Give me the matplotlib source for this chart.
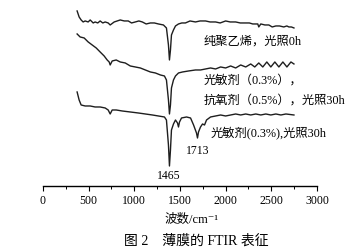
import matplotlib
matplotlib.use("Agg")
import matplotlib.pyplot as plt
from matplotlib.ticker import MultipleLocator

plt.rcParams['font.family'] = ['Liberation Serif', 'Noto Sans CJK SC', 'DejaVu Serif']

# pure PE, 0 h
wn1 = [374, 396, 418, 440, 462, 495, 517, 550, 571, 600, 626, 655, 681, 714, 736, 780,
       846, 890, 934, 970, 1011, 1050, 1088, 1130, 1176, 1220, 1264, 1319, 1352, 1374,
       1385, 1396, 1407, 1429, 1451, 1484, 1520, 1560, 1610, 1670, 1720, 1780, 1830,
       1890, 1940, 2000, 2050, 2110, 2160, 2220, 2260, 2297, 2352, 2363, 2385, 2430,
       2473, 2510, 2550, 2590, 2637, 2670, 2693, 2720, 2748]
y1 = [175, 169, 166, 164, 165, 164, 166, 163, 164, 163, 165, 163, 164, 163, 161, 164,
      166, 165, 165, 163, 164, 165, 164, 162, 163, 163, 162, 161, 158, 141,
      126, 136, 151, 156, 160, 162, 163, 163, 165, 164, 165, 165, 164,
      164, 163, 165, 164, 164, 163, 163, 163, 162, 162, 159, 162, 161,
      161, 159, 160, 160, 159, 160, 159, 159, 158]

# photosensitizer 0.3% + antioxidant 0.5%, 30 h
wn2 = [374, 407, 451, 495, 539, 583, 626, 670, 703, 725, 736, 758, 802, 846, 901,
       956, 1011, 1066, 1121, 1176, 1231, 1286, 1330, 1352, 1374, 1385, 1396, 1407,
       1429, 1451, 1484, 1528, 1594, 1670, 1725, 1780, 1835, 1890, 1945, 2000, 2055,
       2110, 2165, 2220, 2275, 2319, 2363, 2407, 2451, 2495, 2539, 2583, 2627, 2671,
       2715, 2748]
y2 = [152, 149, 148, 144, 141, 138, 134, 130, 126, 124, 121, 125, 126, 124, 123,
      120, 119, 118, 116, 114, 113, 111, 110, 106, 86, 72, 81, 98,
      106, 110, 113, 114, 115, 116, 116, 117, 118, 117, 119, 118, 120,
      118, 121, 119, 122, 119, 123, 119, 124, 119, 124, 119, 124, 119,
      124, 122]

# photosensitizer 0.3%, 30 h
wn3 = [374, 396, 418, 462, 517, 571, 626, 681, 714, 736, 758, 802, 868, 956, 1044,
       1121, 1198, 1264, 1330, 1352, 1374, 1385, 1396, 1407, 1429, 1451, 1473, 1484,
       1495, 1517, 1572, 1616, 1649, 1681, 1692, 1703, 1725, 1747, 1769, 1791, 1835,
       1890, 1945, 2000, 2055, 2110, 2165, 2220, 2275, 2330, 2385, 2440, 2495, 2550,
       2605, 2660, 2748]
y3 = [94, 86, 81, 80, 80, 79, 79, 78, 76, 72, 76, 76, 75, 74, 73,
      72, 71, 70, 69, 66, 41, 20, 36, 56, 62, 66, 63, 59,
      64, 68, 69, 68, 61, 53, 48, 54, 59, 62, 61, 66, 69,
      70, 71, 70, 71, 72, 71, 72, 71, 72, 71, 72, 71, 72,
      71, 72, 71]

xticks = [0, 500, 1000, 1500, 2000, 2500, 3000]
labels = ['纯聚乙烯，光照0h', '光敏剂（0.3%），', '抗氧剂（0.5%），光照30h', '光敏剂(0.3%),光照30h']
peaks = ['1465', '1713']

fig = plt.figure(figsize=(3.61, 2.48), dpi=100)
ax = fig.add_axes([0.119, 0.25, 0.759, 0.73])

for wn, y in [(wn1, y1), (wn2, y2), (wn3, y3)]:
    ax.plot(wn, y, color='#1e1e1e', lw=1.0)

ax.set_xlim(0, 3000)
ax.set_ylim(0, 181)
ax.set_xticks(xticks)
ax.set_xticklabels([str(t) for t in xticks], fontsize=8.5)
ax.xaxis.set_minor_locator(MultipleLocator(250))
ax.tick_params(axis='x', which='major', length=3.5, width=0.8, pad=3, direction='out')
ax.tick_params(axis='x', which='minor', length=2, width=0.7, direction='out')
ax.set_yticks([])
for s in ['top', 'left', 'right']:
    ax.spines[s].set_visible(False)
ax.spines['bottom'].set_linewidth(1.0)

fs = 8.8
ax.text(1758, 144, labels[0], fontsize=fs, va='center', ha='left')
ax.text(1758, 105, labels[1], fontsize=fs, va='center', ha='left')
ax.text(1758, 85, labels[2], fontsize=fs, va='center', ha='left')
ax.text(1835, 53, labels[3], fontsize=fs, va='center', ha='left')
ax.text(1692, 35, peaks[1], fontsize=8.5, va='center', ha='center')
ax.text(1374, 10, peaks[0], fontsize=8.5, va='center', ha='center')

fig.text(0.53, 0.115, '波数/cm⁻¹', fontsize=9, ha='center', va='center')
fig.text(0.545, 0.028, '图 2　薄膜的 FTIR 表征', fontsize=10, ha='center', va='center')

fig.savefig('out.png', dpi=100)
